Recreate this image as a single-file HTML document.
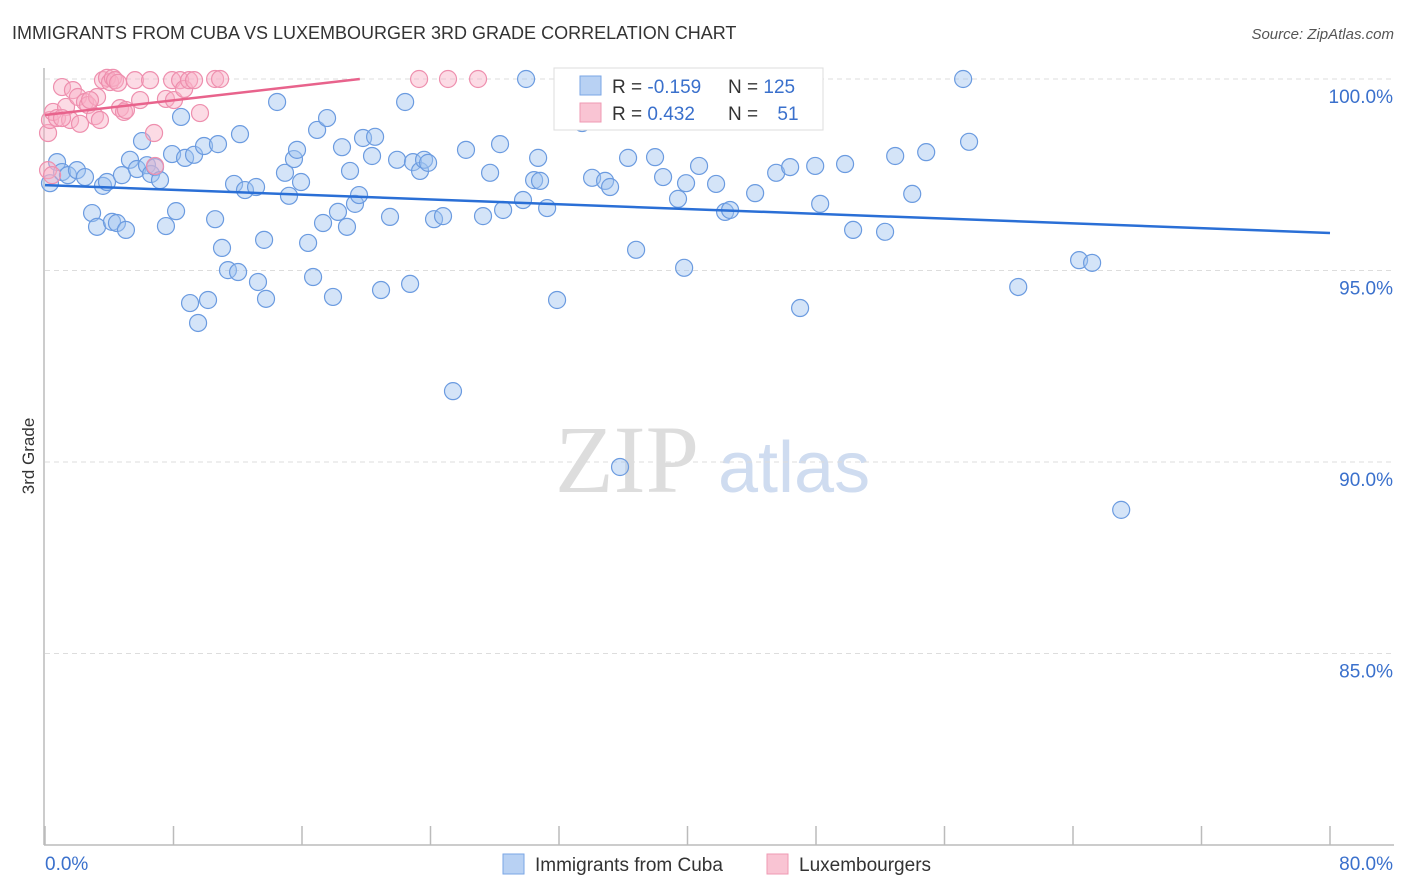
<!DOCTYPE html>
<html><head><meta charset="utf-8"><style>
body{margin:0;background:#fff;font-family:"Liberation Sans",sans-serif;}
#wrap{position:relative;width:1406px;height:892px;overflow:hidden;}
</style></head><body>
<div id="wrap">
<svg id="svg" width="1406" height="892" xmlns="http://www.w3.org/2000/svg">
<text x="12" y="39" font-size="18" fill="#333">IMMIGRANTS FROM CUBA VS LUXEMBOURGER 3RD GRADE CORRELATION CHART</text>
<text x="1394" y="39" font-size="15" fill="#555" font-style="italic" text-anchor="end">Source: ZipAtlas.com</text>
<text x="34" y="456" font-size="17" fill="#333" text-anchor="middle" transform="rotate(-90 34 456)">3rd Grade</text>
<text x="555" y="492" font-size="96" fill="#ddd" font-family="Liberation Serif,serif">ZIP</text>
<text x="718" y="492" font-size="72" fill="#cfdcf0">atlas</text>
<g id="grid"></g><g id="axes"></g><g id="pts"></g><g id="lines"></g>
<g>
<rect x="554" y="68" width="269" height="62" fill="#fff" stroke="#ddd"/>
<rect x="580" y="76" width="21" height="19" fill="#b8d1f3" stroke="#7aa6e6"/>
<rect x="580" y="103" width="21" height="19" fill="#f9c4d3" stroke="#ef9ab3"/>
<text x="612" y="93" font-size="19" fill="#333">R = <tspan fill="#3a70cc">-0.159</tspan></text>
<text x="728" y="93" font-size="19" fill="#333">N = <tspan fill="#3a70cc">125</tspan></text>
<text x="612" y="120" font-size="19" fill="#333">R = <tspan fill="#3a70cc"> 0.432</tspan></text>
<text x="728" y="120" font-size="19" fill="#333">N = <tspan fill="#3a70cc" dx="14">51</tspan></text>
</g>
<g>
<rect x="503" y="854" width="21" height="20" fill="#b8d1f3" stroke="#7aa6e6"/>
<text x="535" y="871" font-size="19" fill="#333">Immigrants from Cuba</text>
<rect x="767" y="854" width="21" height="20" fill="#f9c4d3" stroke="#ef9ab3"/>
<text x="799" y="871" font-size="19" fill="#333">Luxembourgers</text>
</g>
</svg>
</div>
<script>
const blueX=[0.31,0.75,1.06,1.43,1.99,2.49,2.93,3.24,3.61,3.86,4.17,4.48,4.79,5.04,5.29,5.73,6.04,6.35,6.60,6.85,7.16,7.53,7.91,8.16,8.47,8.72,9.03,9.28,9.53,9.90,10.15,10.59,10.77,11.02,11.39,11.77,12.02,12.14,12.45,13.14,13.26,13.64,13.76,14.45,14.94,15.19,15.50,15.69,15.94,16.38,16.69,16.94,17.31,17.56,17.93,18.24,18.49,18.80,18.99,19.30,19.55,19.80,20.36,20.55,20.92,21.48,21.92,22.42,22.73,22.91,23.35,23.60,23.85,24.22,24.78,25.40,26.21,27.27,27.71,28.33,28.52,29.76,29.95,30.45,30.70,30.82,31.26,31.88,33.44,34.06,34.87,35.18,35.80,36.30,36.80,37.98,38.48,39.41,39.79,39.91,40.72,41.78,42.34,42.65,44.21,45.52,46.39,47.01,47.95,48.26,49.81,50.31,52.30,52.93,53.99,54.86,57.16,57.53,60.59,64.38,65.19,67.00];
const blueY=[97.28,97.83,97.57,97.49,97.62,97.44,96.50,96.14,97.21,97.31,96.27,96.24,97.49,96.06,97.89,97.65,98.38,97.75,97.52,97.70,97.36,96.16,98.04,96.55,99.01,97.94,94.15,98.02,93.63,98.25,94.23,96.34,98.30,95.59,95.01,97.26,94.96,98.56,97.10,97.18,94.70,95.80,94.26,99.40,97.55,96.95,97.91,98.15,97.31,95.72,94.83,98.67,96.24,98.98,94.31,96.53,98.22,96.14,97.60,96.74,96.97,98.46,97.99,98.49,94.49,96.40,97.89,99.40,94.65,97.83,97.60,97.89,97.81,96.34,96.42,91.85,98.15,96.42,97.55,98.30,96.58,96.84,100,97.36,97.94,97.34,96.63,94.23,98.85,97.42,97.34,97.18,89.87,97.94,95.54,97.96,97.44,96.87,95.07,97.28,97.73,97.26,96.53,96.58,97.02,97.55,97.70,94.02,97.73,96.74,97.78,96.06,96.01,97.99,97.00,98.09,100,98.36,94.57,95.27,95.20,88.75];
const pinkX=[0.19,0.31,0.50,0.75,1.06,1.31,1.56,1.74,2.05,2.18,2.49,2.68,3.11,3.24,3.42,3.61,3.86,4.05,4.23,4.36,4.55,4.67,4.92,5.04,5.60,5.92,6.54,6.79,7.53,7.91,8.03,8.41,8.66,8.97,9.28,9.65,10.59,10.90,23.29,25.09,26.96,0.19,0.44,6.85,1.06,2.80];
const pinkY=[98.59,98.93,99.14,98.98,99.79,99.27,98.93,99.71,99.53,98.83,99.40,99.32,99.03,99.53,98.93,99.97,100.03,99.92,100.03,99.97,99.90,99.24,99.14,99.19,99.97,99.45,99.97,98.59,99.48,99.97,99.45,99.97,99.74,99.97,99.97,99.11,100,100,100,100,100,97.62,97.49,97.73,98.98,99.45];
const yTicks=[100,95,90,85];
const yTickLabels=["100.0%","95.0%","90.0%","85.0%"];
const xTicks=[0,8,16,24,32,40,48,56,64,72,80];
const blueTrend=[[0,97.23],[80,95.98]];
const pinkTrend=[[0,99.06],[19.6,100]];
const X0=45,X1=1330,Y0=79,Y1=845;
function sx(v){return X0+v/80*(X1-X0);}
function sy(v){return Y0+(100-v)/20*(Y1-Y0);}
const NS="http://www.w3.org/2000/svg";
function mk(tag,at,parent){const e=document.createElementNS(NS,tag);for(const k in at)e.setAttribute(k,at[k]);parent.appendChild(e);return e;}
const grid=document.getElementById('grid'),axes=document.getElementById('axes'),pts=document.getElementById('pts'),lines=document.getElementById('lines');
yTicks.forEach((t,i)=>{
 const l=mk('line',{x1:X0,x2:1394,y1:sy(t),y2:sy(t),stroke:'#ddd','stroke-dasharray':'5,4'},grid);
 
 
 const tx=mk('text',{x:1393,y:sy(t)+24,'font-size':19,fill:'#3a70cc','text-anchor':'end'},grid);
 tx.textContent=yTickLabels[i];
 
 
});
const ya=mk('line',{x1:X0-1,x2:X0-1,y1:68,y2:Y1,stroke:'#bbb','stroke-width':1.5},axes);


const xa=mk('line',{x1:X0-1,x2:1394,y1:Y1,y2:Y1,stroke:'#bbb','stroke-width':1.5},axes);


xTicks.forEach(t=>{
 const l=mk('line',{x1:sx(t),x2:sx(t),y1:826,y2:Y1,stroke:'#bbb','stroke-width':1.5},axes);
 
 
});
const xl0=mk('text',{x:45,y:870,'font-size':19,fill:'#3a70cc'},axes);xl0.textContent='0.0%';


const xl1=mk('text',{x:1393,y:870,'font-size':19,fill:'#3a70cc','text-anchor':'end'},axes);xl1.textContent='80.0%';


blueX.forEach((v,i)=>{
 const c=mk('circle',{cx:sx(v),cy:sy(blueY[i]),r:8.5,fill:'rgba(160,195,240,0.45)',stroke:'#6b9be0','stroke-width':1.2},pts);
 
 
});
pinkX.forEach((v,i)=>{
 const c=mk('circle',{cx:sx(v),cy:sy(pinkY[i]),r:8.5,fill:'rgba(248,175,198,0.45)',stroke:'#ee8fae','stroke-width':1.2},pts);
 
 
});
const bl=mk('line',{x1:sx(blueTrend[0][0]),y1:sy(blueTrend[0][1]),x2:sx(blueTrend[1][0]),y2:sy(blueTrend[1][1]),stroke:'#2a6fd6','stroke-width':2.5},lines);


const pl=mk('line',{x1:sx(pinkTrend[0][0]),y1:sy(pinkTrend[0][1]),x2:sx(pinkTrend[1][0]),y2:sy(pinkTrend[1][1]),stroke:'#e8638c','stroke-width':2.5},lines);


</script>
</body></html>
